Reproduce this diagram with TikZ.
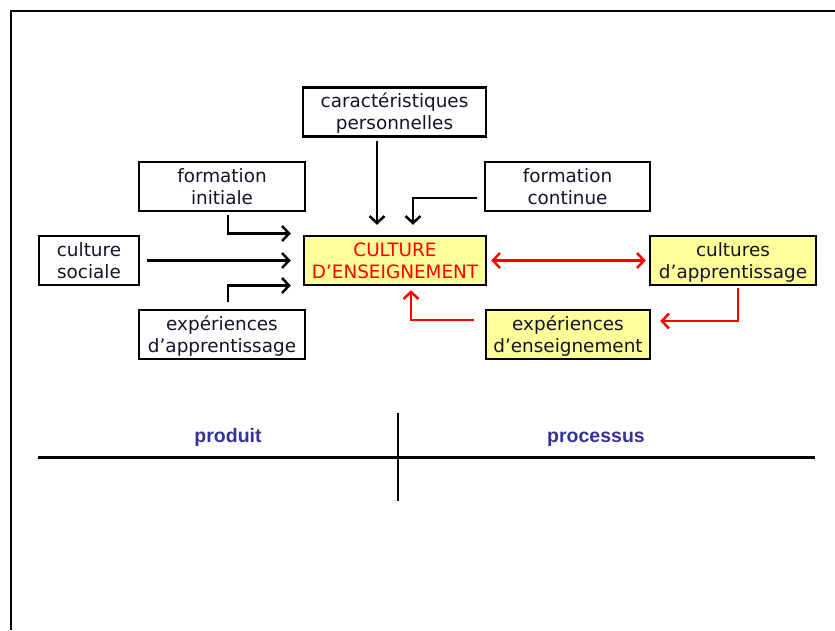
\documentclass[tikz,border=0pt]{standalone}
\usepackage{fontspec}
\usepackage{tikz}
\usetikzlibrary{arrows.meta, positioning}
\newfontfamily\boxfont{DejaVu Sans}
\newfontfamily\headfont{Liberation Sans}
\definecolor{boxyellow}{RGB}{255,255,153}
\definecolor{headblue}{RGB}{51,51,153}
\definecolor{boxtext}{RGB}{20,20,40}
\tikzset{%
  >={Straight Barb[length=7pt, width=15pt]}, % open arrow heads
  % rectangle with text
  infobox/.style={rectangle, draw, line width=2.5pt, minimum height=49pt, inner sep=0pt,
    align=center, text=boxtext, text height=35pt, text depth=0pt,
    font=\boxfont\fontsize{18.4}{21.6}\selectfont},
  hotbox/.style={infobox, fill=boxyellow},
  % influences
  flow/.style={->, line width=2.5pt},
  loopflow/.style={->, line width=2.5pt, red},
  % column heads
  colhead/.style={anchor=base, font=\headfont\bfseries\fontsize{19.5}{22}\selectfont, text=headblue}
}

\begin{document}
\begin{tikzpicture}[x=1pt, y=-1pt]
  \useasboundingbox (0,0) rectangle (835,630);
  % frame
  \draw[line width=2pt] (11,630) -- (11,11) -- (835,11);

  % boxes
  \node[infobox, minimum width=183pt] (perso) at (394.5,112) {caractéristiques\\personnelles};
  \node[infobox, minimum width=166pt] (finit) at (222,186.5) {formation\\initiale};
  \node[infobox, minimum width=165pt] (fcont) at (567.5,186.5) {formation\\continue};
  \node[infobox, minimum width=100pt] (csoc) at (89,260.5) {culture\\sociale};
  \node[hotbox, minimum width=182pt, text=red] (censeign) at (395,260.5) {CULTURE\\D’ENSEIGNEMENT};
  \node[hotbox, minimum width=166pt] (cappr) at (733,260.5) {cultures\\d’apprentissage};
  \node[infobox, minimum width=166pt] (eappr) at (222,334.5) {expériences\\d’apprentissage};
  \node[hotbox, minimum width=164pt] (eenseign) at (568,334.5) {expériences\\d’enseignement};

  % black arrows
  \draw[flow] ([xshift=6pt, yshift=-3pt]finit.south) |- ([xshift=-12pt, yshift=27pt]censeign.west);
  \draw[flow] ([xshift=7pt]csoc.east) -- ([xshift=-12pt]censeign.west);
  \draw[flow] ([xshift=6pt, yshift=7pt]eappr.north) |- ([xshift=-12pt, yshift=-25pt]censeign.west);
  \draw[flow] ([xshift=-17.5pt, yshift=-3pt]perso.south) -- ([xshift=-18pt, yshift=10pt]censeign.north);
  \draw[flow] ([xshift=-7pt, yshift=-11.5pt]fcont.west) -| ([xshift=18pt, yshift=10pt]censeign.north);

  % red arrows
  \draw[loopflow, <->] ([xshift=4pt]censeign.east) -- ([xshift=-3pt]cappr.west);
  \draw[loopflow] ([xshift=5pt, yshift=-2pt]cappr.south) |- ([xshift=9pt, yshift=13.5pt]eenseign.east);
  \draw[loopflow] ([xshift=-11pt, yshift=14.5pt]eenseign.west) -| ([xshift=16pt, yshift=-4pt]censeign.south);

  % bottom table
  \coordinate (hl) at (38,457);
  \coordinate (hr) at (815,457);
  \coordinate (vt) at (398,413);
  \coordinate (vb) at (398,501);
  \draw[line width=3pt] (hl) -- (hr);
  \draw[line width=2pt] (vt) -- (vb);
  \node[colhead] (prod) at (228,442) {produit};
  \node[colhead] (proc) at (596,442) {processus};
\end{tikzpicture}
\end{document}
